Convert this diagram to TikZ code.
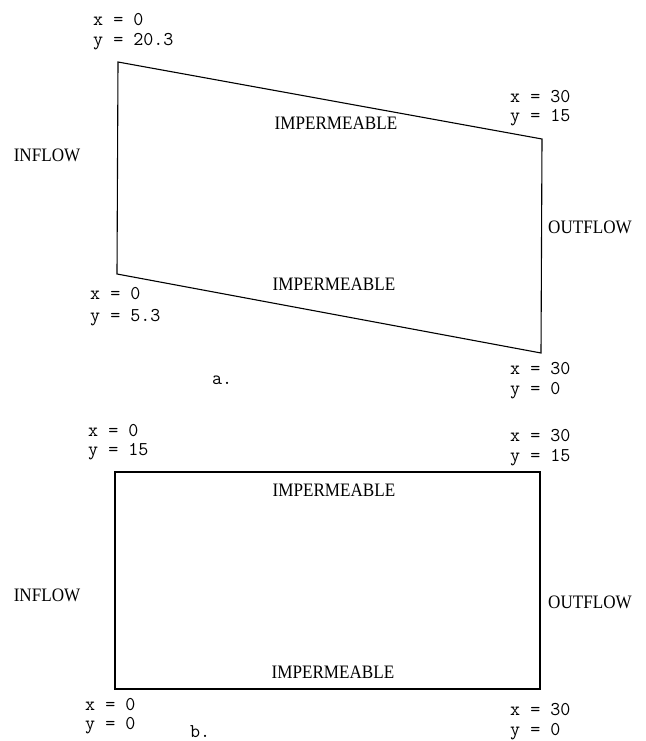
\documentclass[tikz,border=0pt]{standalone}
\usepackage{fontspec}
\setmainfont{Liberation Serif}
\newfontfamily\condf[FakeStretch=0.9]{Liberation Serif}
\begin{document}
\begin{tikzpicture}[x=1pt,y=-1pt,
  coord/.style={anchor=west,inner sep=0pt,font=\ttfamily\fontsize{19.5}{19.5}\selectfont},
  lab/.style={inner sep=0pt,font=\condf\fontsize{19}{19}\selectfont},
  edge/.style={line width=1.1pt,line join=miter}]
\useasboundingbox (0,0) rectangle (645,741);
% panel a
\coordinate (a1) at (118,62);
\coordinate (a2) at (542,139);
\coordinate (a3) at (541,353);
\coordinate (a4) at (117,274);
\draw[edge] (a1) -- (a2) -- (a3) -- (a4) -- cycle;
\node[coord] (atlx) at (93,20) {x = 0};
\node[coord] (atly) at (93,42) {y = 20.3};
\node[coord] (atrx) at (510,97) {x = 30};
\node[coord] (atry) at (510,118) {y = 15};
\node[coord] (ablx) at (90,294) {x = 0};
\node[coord] (ably) at (90,318) {y = 5.3};
\node[coord] (abrx) at (510,369) {x = 30};
\node[coord] (abry) at (510,391) {y = 0};
\node[lab] (aimpt) at (336,123) {IMPERMEABLE};
\node[lab] (aimpb) at (334,284) {IMPERMEABLE};
\node[lab] (ain) at (47,155) {INFLOW};
\node[lab] (aout) at (590,227) {OUTFLOW};
\node[coord] (acap) at (212,380) {a.};
% panel b
\coordinate (b1) at (115,472);
\coordinate (b2) at (540,472);
\coordinate (b3) at (540,689);
\coordinate (b4) at (115,689);
\draw[edge] (b1) -- (b2) -- (b3) -- (b4) -- cycle;
\node[coord] (btlx) at (88,431) {x = 0};
\node[coord] (btly) at (88,452) {y = 15};
\node[coord] (btrx) at (510,436) {x = 30};
\node[coord] (btry) at (510,458) {y = 15};
\node[coord] (bblx) at (85,705) {x = 0};
\node[coord] (bbly) at (85,726) {y = 0};
\node[coord] (bbrx) at (510,710) {x = 30};
\node[coord] (bbry) at (510,732) {y = 0};
\node[lab] (bimpt) at (334,490) {IMPERMEABLE};
\node[lab] (bimpb) at (333,672) {IMPERMEABLE};
\node[lab] (bin) at (47,595) {INFLOW};
\node[lab] (bout) at (590,602) {OUTFLOW};
\node[coord] (bcap) at (190,732) {b.};
\end{tikzpicture}
\end{document}
